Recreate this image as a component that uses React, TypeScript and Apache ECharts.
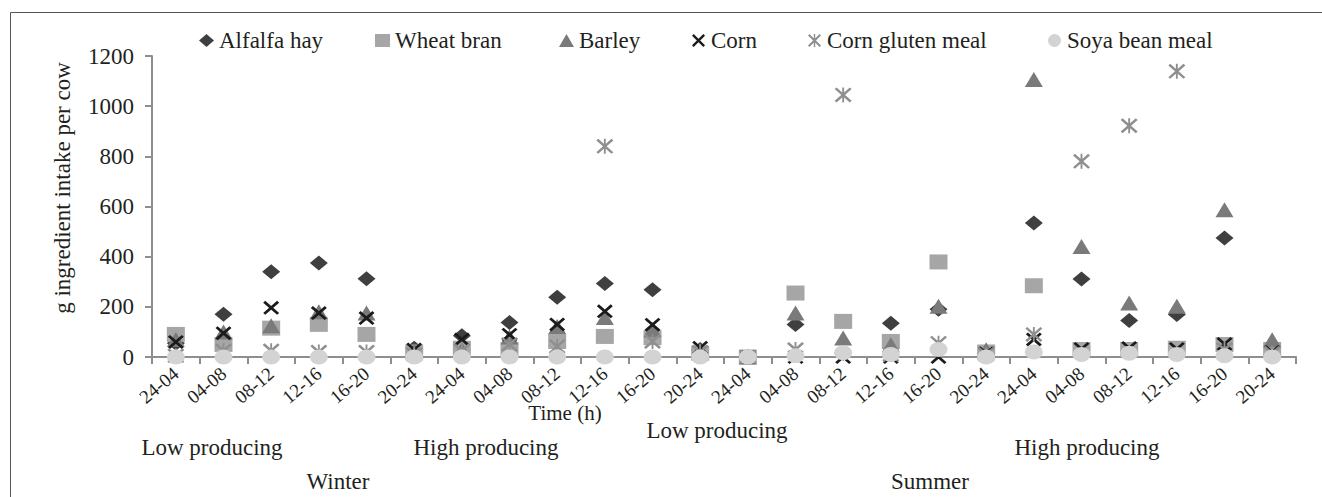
import React, { useEffect, useRef } from "react";
import * as echarts from "echarts";

const timeSlots = ["24-04", "04-08", "08-12", "12-16", "16-20", "20-24"];
const categories = [...timeSlots, ...timeSlots, ...timeSlots, ...timeSlots];

const alfalfaHay = [55, 170, 340, 375, 312, 35, 85, 138, 238, 293, 268, 30, 0, 130, 15, 135, 190, 15, 534, 311, 146, 169, 474, 10];
const wheatBran = [90, 50, 115, 130, 90, 20, 35, 30, 62, 82, 77, 15, 0, 255, 142, 62, 379, 20, 284, 30, 30, 35, 50, 30];
const barley = [70, 100, 125, 180, 175, 25, 30, 80, 122, 157, 109, 25, 0, 175, 76, 49, 202, 29, 1106, 441, 215, 202, 587, 69];
const corn = [60, 95, 196, 175, 155, 30, 70, 89, 130, 182, 129, 37, 0, 0, 0, 0, 0, 15, 70, 32, 36, 32, 52, 20];
const cornGlutenMeal = [5, 25, 25, 20, 20, 10, 25, 50, 42, 840, 62, 20, 0, 30, 1045, 10, 55, 10, 90, 780, 922, 1139, 30, 15];
const soyaBeanMeal = [0, 0, 0, 0, 0, 0, 0, 0, 0, 0, 0, 0, 0, 5, 17, 10, 30, 0, 20, 10, 15, 10, 5, 0];

const seriesNames = ["Alfalfa hay", "Wheat bran", "Barley", "Corn", "Corn gluten meal", "Soya bean meal"];

const FONT = '"Liberation Serif", "Times New Roman", serif';
const TEXT_COLOR = "#231f20";
const AXIS_COLOR = "#8e8e8e";

const xPath = "path://M1.3,0L10,8.7L8.7,10L0,1.3ZM8.7,0L10,1.3L1.3,10L0,8.7Z";
const starPath = "path://M1.1,0L10,8.9L8.9,10L0,1.1ZM8.9,0L10,1.1L1.1,10L0,8.9ZM4.45,0L5.55,0L5.55,10L4.45,10Z";
const ellipsePath = "path://M0,5A5,5 0 1,0 10,5A5,5 0 1,0 0,5Z";

export default function App() {
  const ref = useRef<HTMLDivElement>(null);
  useEffect(() => {
    document.body.style.margin = "0";
    const chart = echarts.init(ref.current!, null, { renderer: "svg" });
    const mk = (name: string, data: number[], symbol: string, color: string, size: any) => ({
      name,
      type: "scatter",
      data,
      symbol,
      symbolSize: size,
      itemStyle: { color, opacity: 1 },
    });
    const legendLefts = [199, 375, 559, 692, 808, 1048];
    const legendIcons = ["diamond", "rect", "triangle", xPath, starPath, ellipsePath];
    const txt = (text: string, x: number, y: number, size: number) => ({
      type: "text",
      x,
      y,
      style: { text, font: `${size}px ${FONT}`, fill: TEXT_COLOR, textAlign: "center", textVerticalAlign: "middle" },
    });
    const option: any = {
      animation: false,
      backgroundColor: "#ffffff",
      textStyle: { fontFamily: FONT },
      grid: { left: 152, right: 26, top: 56, bottom: 140, containLabel: false },
      legend: seriesNames.map((n, i) => ({
        data: [{ name: n, icon: legendIcons[i] }],
        left: legendLefts[i],
        top: 29,
        itemWidth: 15,
        itemHeight: 13,
        padding: 0,
        textStyle: { fontFamily: FONT, fontSize: 23, color: TEXT_COLOR },
        selectedMode: false,
      })),
      xAxis: {
        type: "category",
        data: categories,
        boundaryGap: true,
        axisLine: { lineStyle: { color: AXIS_COLOR, width: 2 } },
        axisTick: { show: true, length: 7, lineStyle: { color: AXIS_COLOR, width: 2 } },
        axisLabel: { interval: 0, rotate: 40, margin: 14, fontFamily: FONT, fontSize: 19, color: TEXT_COLOR },
        splitLine: { show: false },
      },
      yAxis: {
        type: "value",
        min: 0,
        max: 1200,
        interval: 200,
        axisLine: { show: true, lineStyle: { color: AXIS_COLOR, width: 2 } },
        axisTick: { show: true, length: 7, lineStyle: { color: AXIS_COLOR, width: 2 } },
        axisLabel: { margin: 18, fontFamily: FONT, fontSize: 23, color: TEXT_COLOR, formatter: (v: number) => String(v) },
        splitLine: { show: false },
      },
      graphic: [
        { type: "rect", z: -10, silent: true, shape: { x: 10.5, y: 12.5, width: 1340, height: 520 }, style: { fill: "none", stroke: "#555555", lineWidth: 1 } },
        { type: "text", x: 62, y: 188, rotation: Math.PI / 2, style: { text: "g ingredient intake per cow", font: `23px ${FONT}`, fill: TEXT_COLOR, textAlign: "center", textVerticalAlign: "middle" } },
        txt("Time (h)", 565, 413, 21),
        txt("Low producing", 212, 447, 23),
        txt("High producing", 486, 447, 23),
        txt("Winter", 338, 481, 23),
        txt("Low producing", 717, 430, 23),
        txt("High producing", 1087, 447, 23),
        txt("Summer", 930, 481, 23),
      ],
      series: [
        mk(seriesNames[0], alfalfaHay, "diamond", "#3f3f3f", [18, 15]),
        mk(seriesNames[1], wheatBran, "rect", "#a6a6a6", [18, 15]),
        mk(seriesNames[2], barley, "triangle", "#7a7a7a", [18, 15]),
        mk(seriesNames[3], corn, xPath, "#1b1b1b", [16, 14]),
        mk(seriesNames[4], cornGlutenMeal, starPath, "#8f8f8f", [17, 15]),
        mk(seriesNames[5], soyaBeanMeal, ellipsePath, "#d3d3d3", [18, 15]),
      ],
    };
    chart.setOption(option);
    return () => chart.dispose();
  }, []);
  return <div ref={ref} style={{ width: 1322, height: 497 }} />;
}
